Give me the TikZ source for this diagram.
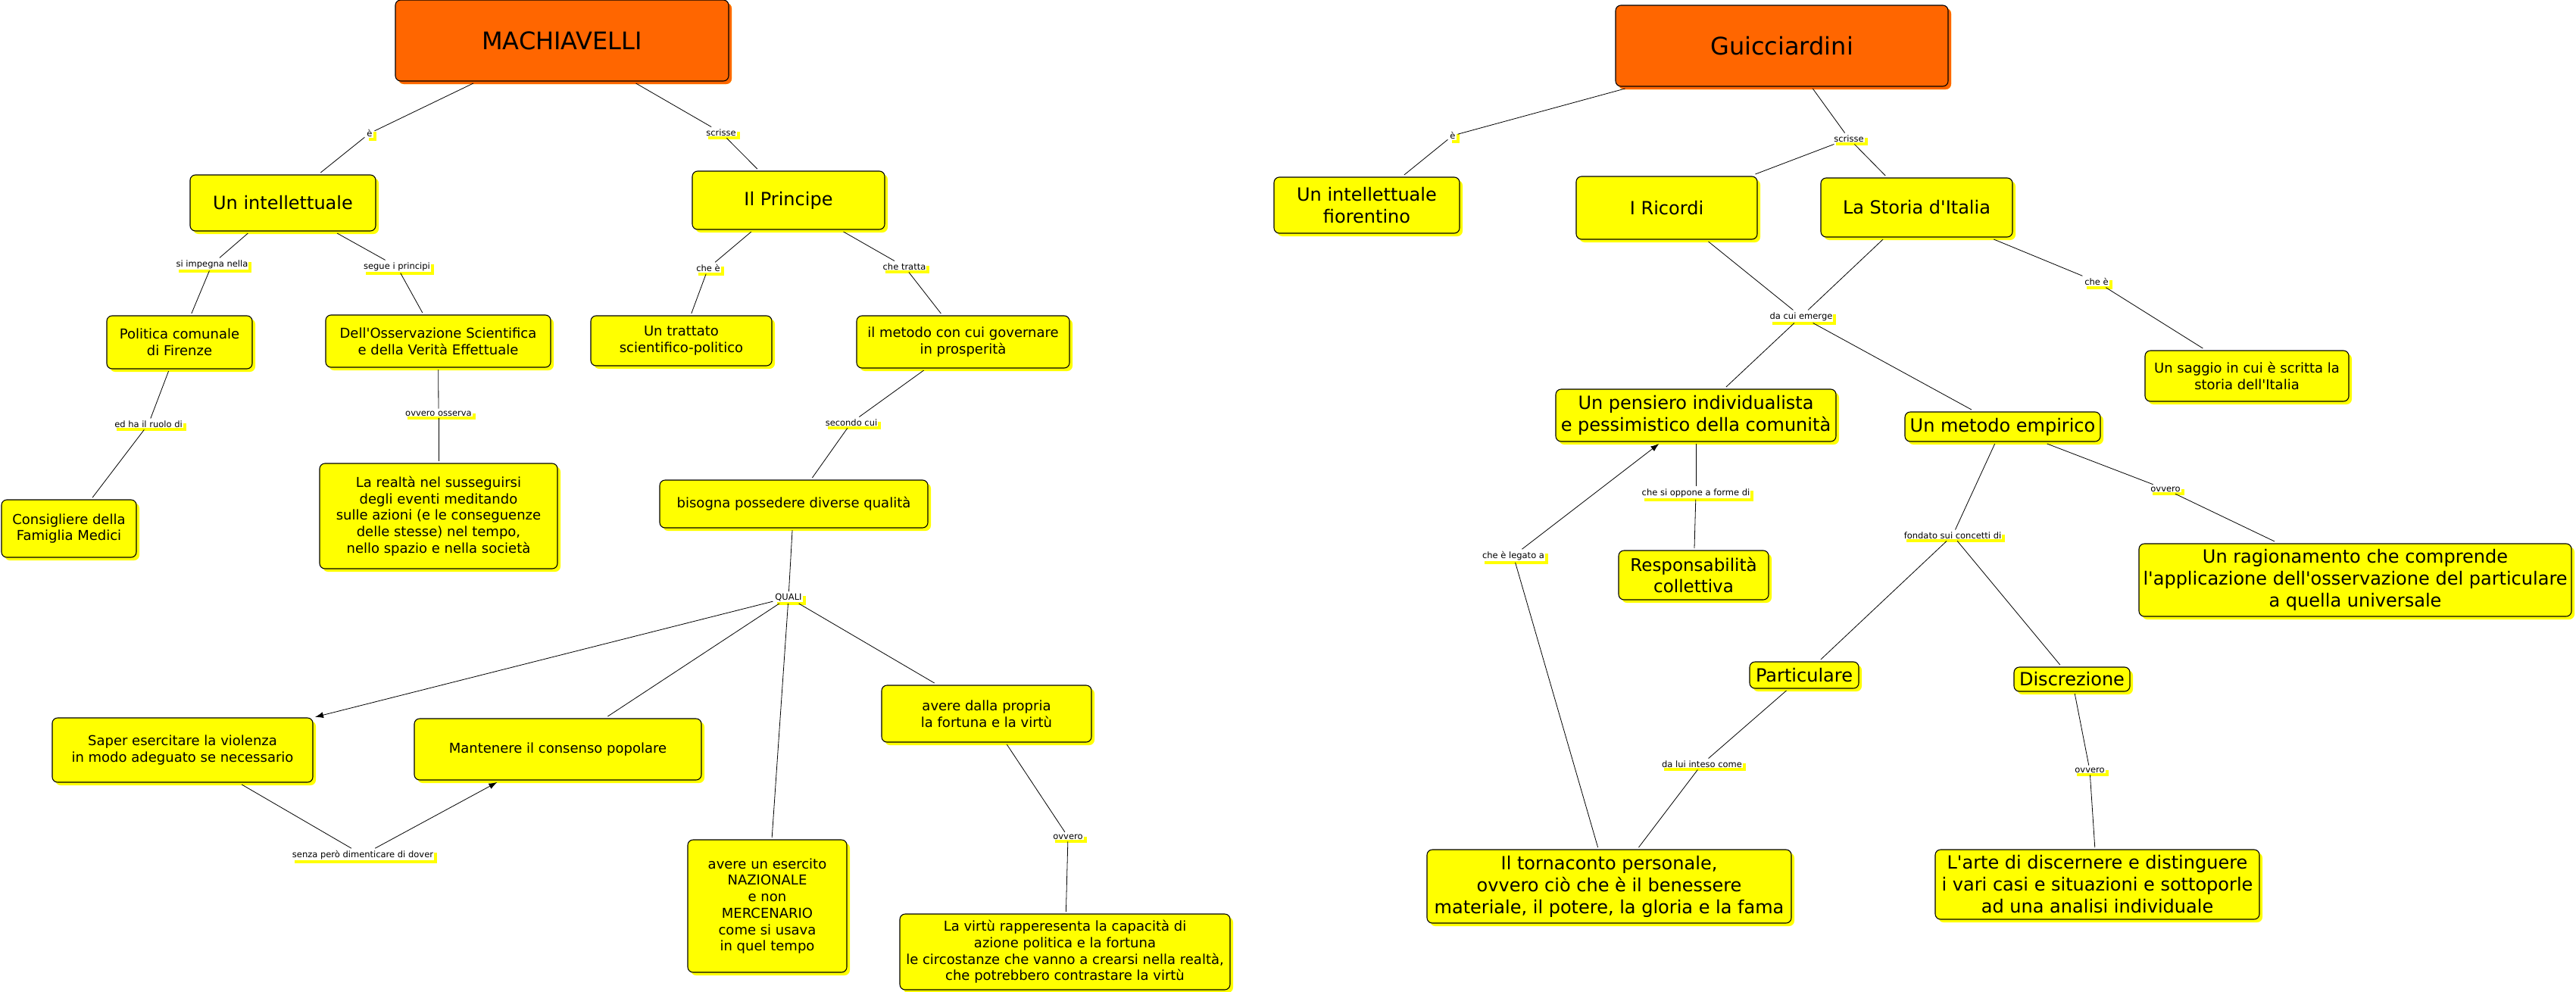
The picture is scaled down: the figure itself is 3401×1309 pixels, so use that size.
\documentclass[tikz,border=0pt]{standalone}
\usepackage{fontspec}
\setmainfont{DejaVu Sans}[Ligatures=TeXOff]
\usetikzlibrary{shadows,arrows.meta}
\definecolor{cmyellow}{RGB}{255,255,0}
\definecolor{cmorange}{RGB}{255,102,0}
\newcommand{\fsz}[2]{\fontsize{#1}{#2}\selectfont}
\begin{document}
\begin{tikzpicture}[x=1pt,y=-1pt,
  box/.style={draw=black, line width=1.1pt, rounded corners=7pt, fill=cmyellow,
    align=center, inner sep=0pt, outer sep=3pt,
    copy shadow={shadow xshift=4pt, shadow yshift=-4pt, draw=none, fill=cmyellow}},
  sbox/.style={box, font=\fsz{18}{21.7}},
  bbox/.style={box, font=\fsz{24}{29}},
  tbox/.style={box, fill=cmorange, font=\fsz{32}{38},
    copy shadow={shadow xshift=4pt, shadow yshift=-4pt, draw=none, fill=cmorange}},
  lbl/.style={fill=white, inner sep=1pt, outer sep=2pt, font=\fsz{11.5}{13},
    copy shadow={shadow xshift=4pt, shadow yshift=-4pt, draw=none, fill=cmyellow}},
  conn/.style={draw=black, line width=0.8pt},
  arr/.style={conn, -{Latex[length=11pt,width=8pt]}}
]
\useasboundingbox (0,0) rectangle (3401,1309);

% ---------------- MACHIAVELLI ----------------
\node[tbox, minimum width=440pt, minimum height=107pt] (M) at (742,53.5) {MACHIAVELLI};
\node[bbox, minimum width=245pt, minimum height=74pt] (intel) at (373.5,268) {Un intellettuale};
\node[bbox, minimum width=254pt, minimum height=77pt] (principe) at (1041,264.5) {Il Principe};
\node[sbox, minimum width=192pt, minimum height=70pt] (politica) at (237,452) {Politica comunale\\di Firenze};
\node[sbox, minimum width=297pt, minimum height=69pt] (osserv) at (578.5,450.5) {Dell'Osservazione Scientifica\\e della Verità Effettuale};
\node[sbox, minimum width=239pt, minimum height=66pt] (trattato) at (899.5,450) {Un trattato\\scientifico-politico};
\node[sbox, minimum width=281pt, minimum height=69pt] (metodoM) at (1271.5,451.5) {il metodo con cui governare\\in prosperità};
\node[sbox, minimum width=178pt, minimum height=76pt] (consigliere) at (91,698) {Consigliere della\\Famiglia Medici};
\node[sbox, minimum width=314pt, minimum height=139pt] (realta) at (579,681.5) {La realtà nel susseguirsi\\degli eventi meditando\\sulle azioni (e le conseguenze\\delle stesse) nel tempo,\\nello spazio e nella società};
\node[sbox, minimum width=354pt, minimum height=63pt] (bisogna) at (1048,665.5) {bisogna possedere diverse qualità};
\node[sbox, minimum width=344pt, minimum height=85pt] (saper) at (241,990.5) {Saper esercitare la violenza\\in modo adeguato se necessario};
\node[sbox, minimum width=379pt, minimum height=81pt] (mantenere) at (736.5,989.5) {Mantenere il consenso popolare};
\node[sbox, minimum width=210pt, minimum height=175pt] (esercito) at (1013,1196.5) {avere un esercito\\NAZIONALE\\e non\\MERCENARIO\\come si usava\\in quel tempo};
\node[sbox, minimum width=277pt, minimum height=75pt] (propria) at (1302.5,942.5) {avere dalla propria\\la fortuna e la virtù};
\node[sbox, minimum width=436pt, minimum height=100pt] (virtu) at (1406,1257) {La virtù rapperesenta la capacità di\\azione politica e la fortuna\\le circostanze che vanno a crearsi nella realtà,\\che potrebbero contrastare la virtù};

\node[lbl] (l1) at (488,176) {è};
\node[lbl] (l2) at (952,175) {scrisse};
\node[lbl] (l3) at (280,349) {si impegna nella};
\node[lbl] (l4) at (524,352) {segue i principi};
\node[lbl] (l5) at (935,354) {che è};
\node[lbl] (l6) at (1194,352) {che tratta};
\node[lbl] (l7) at (196,560) {ed ha il ruolo di};
\node[lbl] (l8) at (579,546) {ovvero osserva};
\node[lbl] (l9) at (1124,558) {secondo cui};
\node[lbl] (l10) at (1041,789) {QUALI};
\node[lbl] (l11) at (479,1129) {senza però dimenticare di dover};
\node[lbl] (l12) at (1410,1105) {ovvero};

\draw[conn] (M) -- (l1);  \draw[conn] (l1) -- (intel);
\draw[conn] (M) -- (l2);  \draw[conn] (l2) -- (principe);
\draw[conn] (intel) -- (l3); \draw[conn] (l3) -- (politica);
\draw[conn] (intel) -- (l4); \draw[conn] (l4) -- (osserv);
\draw[conn] (principe) -- (l5); \draw[conn] (l5) -- (trattato);
\draw[conn] (principe) -- (l6); \draw[conn] (l6) -- (metodoM);
\draw[conn] (politica) -- (l7); \draw[conn] (l7) -- (consigliere);
\draw[conn] (osserv) -- (l8); \draw[conn] (l8) -- (realta);
\draw[conn] (metodoM) -- (l9); \draw[conn] (l9) -- (bisogna);
\draw[conn] (bisogna) -- (l10);
\draw[arr] (l10) -- (saper);
\draw[conn] (l10) -- (mantenere);
\draw[conn] (l10) -- (esercito);
\draw[conn] (l10) -- (propria);
\draw[conn] (saper) -- (l11); \draw[arr] (l11) -- (mantenere);
\draw[conn] (propria) -- (l12); \draw[conn] (l12) -- (virtu);

% ---------------- GUICCIARDINI ----------------
\node[tbox, minimum width=439pt, minimum height=107pt] (G) at (2352.5,60.5) {Guicciardini};
\node[bbox, minimum width=245pt, minimum height=74pt] (fior) at (1804.5,271) {Un intellettuale\\fiorentino};
\node[bbox, minimum width=239pt, minimum height=83pt] (ricordi) at (2200.5,274.5) {I Ricordi};
\node[bbox, minimum width=253pt, minimum height=78pt] (storia) at (2530.5,274) {La Storia d'Italia};
\node[bbox, minimum width=370pt, minimum height=69pt] (pensiero) at (2239,548.5) {Un pensiero individualista\\e pessimistico della comunità};
\node[bbox, minimum width=258pt, minimum height=39pt] (metodoG) at (2644,563.5) {Un metodo empirico};
\node[sbox, minimum width=269pt, minimum height=67pt] (saggio) at (2966.5,496.5) {Un saggio in cui è scritta la\\storia dell'Italia};
\node[box, font=\fsz{23}{28}, minimum width=198pt, minimum height=65pt] (respons) at (2236,759.5) {Responsabilità\\collettiva};
\node[bbox, minimum width=571pt, minimum height=96pt] (ragion) at (3109.5,766) {Un ragionamento che comprende\\l'applicazione dell'osservazione del particulare\\a quella universale};
\node[bbox, minimum width=144pt, minimum height=35pt] (partic) at (2382,891.5) {Particulare};
\node[bbox, minimum width=153pt, minimum height=32pt] (discr) at (2735.5,897) {Discrezione};
\node[bbox, minimum width=481pt, minimum height=97pt] (torna) at (2124.5,1170.5) {Il tornaconto personale,\\ovvero ciò che è il benessere\\materiale, il potere, la gloria e la fama};
\node[bbox, minimum width=428pt, minimum height=92pt] (arte) at (2769,1168) {L'arte di discernere e distinguere\\i vari casi e situazioni e sottoporle\\ad una analisi individuale};

\node[lbl] (g1) at (1918,179) {è};
\node[lbl] (g2) at (2441,183) {scrisse};
\node[lbl] (g3) at (2378,418) {da cui emerge};
\node[lbl] (g4) at (2768,372) {che è};
\node[lbl] (g5) at (2239,651) {che si oppone a forme di};
\node[lbl] (g6) at (1998,734) {che è legato a};
\node[lbl] (g7) at (2578,707) {fondato sui concetti di};
\node[lbl] (g8) at (2859,646) {ovvero};
\node[lbl] (g9) at (2247,1009) {da lui inteso come};
\node[lbl] (g10) at (2759,1017) {ovvero};

\draw[conn] (G) -- (g1); \draw[conn] (g1) -- (fior);
\draw[conn] (G) -- (g2); \draw[conn] (g2) -- (ricordi); \draw[conn] (g2) -- (storia);
\draw[conn] (ricordi) -- (g3); \draw[conn] (storia) -- (g3);
\draw[conn] (g3) -- (pensiero); \draw[conn] (g3) -- (metodoG);
\draw[conn] (storia) -- (g4); \draw[conn] (g4) -- (saggio);
\draw[conn] (pensiero) -- (g5); \draw[conn] (g5) -- (respons);
\draw[conn] (torna) -- (g6); \draw[arr] (g6) -- (pensiero);
\draw[conn] (metodoG) -- (g7); \draw[conn] (g7) -- (partic); \draw[conn] (g7) -- (discr);
\draw[conn] (metodoG) -- (g8); \draw[conn] (g8) -- (ragion);
\draw[conn] (partic) -- (g9); \draw[conn] (g9) -- (torna);
\draw[conn] (discr) -- (g10); \draw[conn] (g10) -- (arte);
\end{tikzpicture}
\end{document}
